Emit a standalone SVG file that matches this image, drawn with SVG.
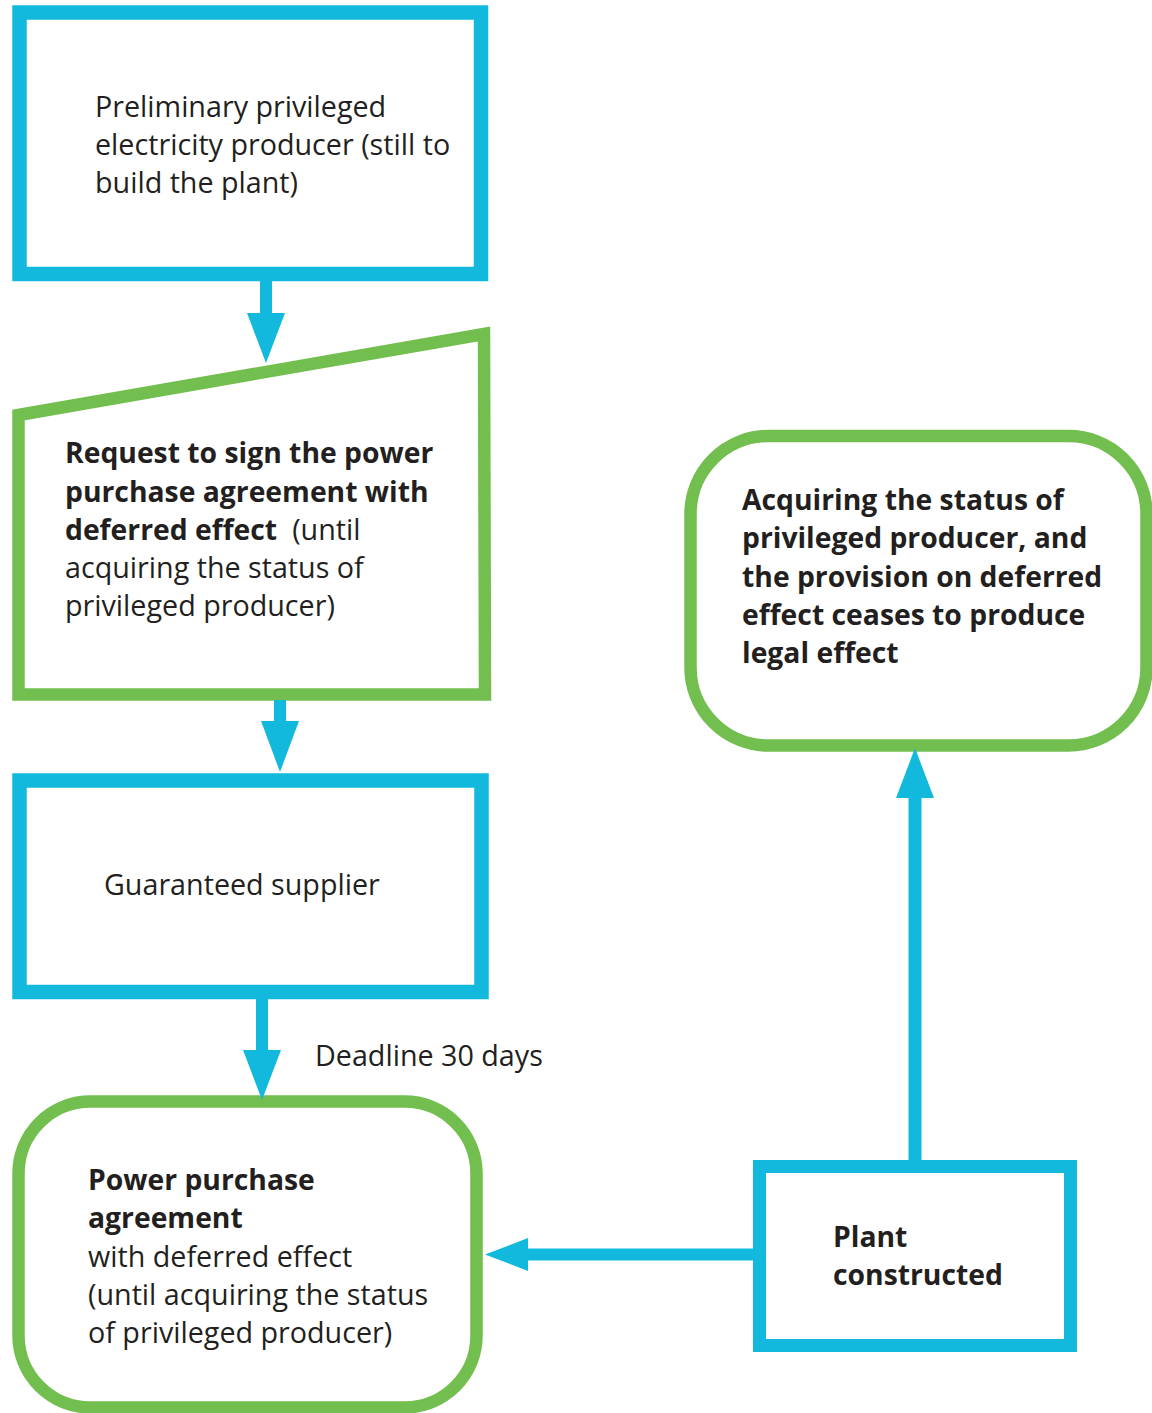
<svg xmlns="http://www.w3.org/2000/svg" width="1152" height="1413" viewBox="0 0 1152 1413">
<style>
.blue{fill:#fff;stroke:#13b9dd;stroke-width:14.5}
.green{fill:#fff;stroke:#72bf4f;stroke-width:12.5}
.shaft{stroke:#13b9dd;stroke-width:12;fill:none}
.head{fill:#13b9dd}
text{font-family:"Open Sans","Liberation Sans",sans-serif;font-size:28.7px;fill:#231f20}
.b{font-weight:bold;font-size:28.3px}
</style>
<rect width="1152" height="1413" fill="#fff"/>
<g id="node-preliminary">
<rect class="blue" x="19.5" y="12.5" width="461.5" height="261.5"/>
<text x="95" y="117">Preliminary privileged</text>
<text x="95" y="155">electricity producer (still to</text>
<text x="95" y="193">build the plant)</text>
</g>
<g id="node-request">
<polygon class="green" points="18.5,415 484,334 485,694.5 18.5,694.5" stroke-linejoin="miter"/>
<text x="65" y="463" class="b">Request to sign the power</text>
<text x="65" y="502" class="b">purchase agreement with</text>
<text x="65" y="540"><tspan class="b">deferred effect</tspan><tspan dx="15">(until</tspan></text>
<text x="65" y="578">acquiring the status of</text>
<text x="65" y="616">privileged producer)</text>
</g>
<g id="node-guaranteed">
<rect class="blue" x="19.5" y="780.5" width="462" height="211.5"/>
<text x="104" y="895">Guaranteed supplier</text>
</g>
<g id="node-ppa">
<rect class="green" x="18.5" y="1101.5" width="458" height="306" rx="72" ry="72"/>
<text x="88" y="1190" class="b">Power purchase</text>
<text x="88" y="1228" class="b">agreement</text>
<text x="88" y="1267">with deferred effect</text>
<text x="88" y="1305">(until acquiring the status</text>
<text x="88" y="1343">of privileged producer)</text>
</g>
<g id="node-acquiring">
<rect class="green" x="690.5" y="436" width="456" height="309.5" rx="78" ry="78"/>
<text x="742" y="510" class="b">Acquiring the status of</text>
<text x="742" y="548" class="b">privileged producer, and</text>
<text x="742" y="587" class="b">the provision on deferred</text>
<text x="742" y="625" class="b">effect ceases to produce</text>
<text x="742" y="663" class="b">legal effect</text>
</g>
<g id="node-plant">
<rect class="blue" x="759.5" y="1166.5" width="311" height="179" style="stroke-width:13"/>
<text x="833" y="1247" class="b">Plant</text>
<text x="833" y="1285" class="b">constructed</text>
</g>
<g id="connectors">
<line class="shaft" x1="266" y1="281" x2="266" y2="314"/>
<polygon class="head" points="247,313 285,313 266,363"/>
<line class="shaft" x1="280" y1="700" x2="280" y2="722"/>
<polygon class="head" points="261,721 299,721 280,772"/>
<line class="shaft" x1="262" y1="999" x2="262" y2="1051"/>
<polygon class="head" points="243,1050 281,1050 262,1100"/>
<text x="315" y="1066">Deadline 30 days</text>
<line class="shaft" x1="753" y1="1254.5" x2="527" y2="1254.5"/>
<polygon class="head" points="528,1238 528,1271 485,1254.5"/>
<line class="shaft" x1="915" y1="1160" x2="915" y2="797" style="stroke-width:13"/>
<polygon class="head" points="896,798 934,798 915,748"/>
</g>
</svg>
